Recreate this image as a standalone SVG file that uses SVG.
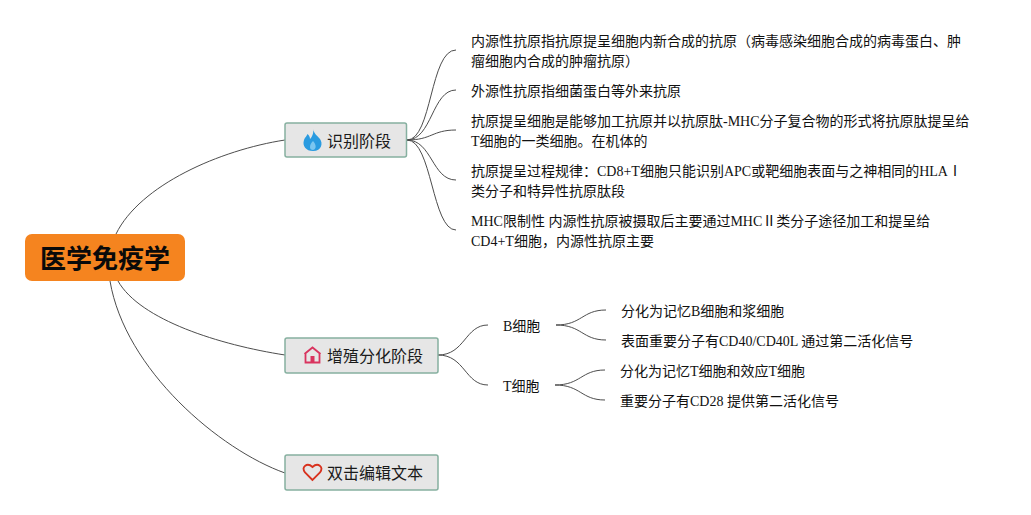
<svg xmlns="http://www.w3.org/2000/svg" width="1031" height="515" viewBox="0 0 1031 515">
<style>
text{font-family:"Liberation Serif","Noto Sans CJK SC",serif;fill:#111}
.leaf{font-size:14px}
.mid{font-size:16px;font-family:"Noto Sans CJK SC","Liberation Sans",sans-serif;fill:#1a1a1a}
.box{fill:#e6e6e6;stroke:#86b0a0;stroke-width:1.500}
.conn path{fill:none;stroke:#4d4d4d;stroke-width:1}
</style>
<rect width="1031" height="515" fill="#fff"/>
<g class="conn" id="connectors">
<path d="M116,234C140,185 220,150 285,140"/>
<path d="M118,281C140,320 220,345 285,355"/>
<path d="M110,281C125,370 220,450 285,473"/>
<path d="M407,140C432,140 430,50 456,50"/>
<path d="M407,140C432,140 432,90 456,90"/>
<path d="M407,140C432,140 432,130 456,130"/>
<path d="M407,140C432,140 432,180 456,180"/>
<path d="M407,140C432,140 432,230 456,230"/>
<path d="M438,355C465,355 465,325 488,325"/>
<path d="M438,355C465,355 465,385 488,385"/>
<path d="M556,325C582,325 582,310 606,310"/>
<path d="M556,325C582,325 582,340 606,340"/>
<path d="M555,385C581,385 581,370 605,370"/>
<path d="M555,385C581,385 581,400 605,400"/>
</g>
<g id="root">
<rect x="25" y="234" width="160" height="47" rx="7" fill="#f5841f"/>
<text x="105" y="268" text-anchor="middle" font-size="26" font-weight="700" style="font-family:'Noto Sans CJK SC',sans-serif;fill:#0a0a0a">医学免疫学</text>
</g>
<g id="n1">
<rect class="box" x="285" y="123" width="121.500" height="34" rx="2"/>
<path d="M313,129C314,134 317,135 320,139C323,143 322,151 313,151C306,151 302,146 304,140C305,137 307,136 307.500,134C309,135 310,137 310,139C312,137 314,133 313,129Z" fill="#2a9be0"/>
<path d="M313,141C316,144 317,149 313,150C309,150 309,145 313,141Z" fill="#7cc6f0"/>
<text class="mid" x="327" y="147">识别阶段</text>
</g>
<g id="n2">
<rect class="box" x="285" y="338" width="153" height="35" rx="2"/>
<path d="M304.500,354L312.500,347.500L320.500,354M305.500,353V362.500H319.500V353" fill="none" stroke="#d9345f" stroke-width="1.800"/>
<rect x="310.500" y="356" width="4" height="6.500" fill="#d9345f"/>
<text class="mid" x="327" y="362">增殖分化阶段</text>
</g>
<g id="n3">
<rect class="box" x="285" y="455" width="153" height="35" rx="2"/>
<path d="M312.500,480L305,472.500C301,467 307,462 312.500,467C318,462 324,467 320,472.500Z" fill="none" stroke="#d8321e" stroke-width="1.800"/>
<text class="mid" x="327" y="479">双击编辑文本</text>
</g>
<g id="leaf1"><text class="leaf" x="471" y="46">内源性抗原指抗原提呈细胞内新合成的抗原（病毒感染细胞合成的病毒蛋白、肿</text><text class="leaf" x="471" y="66">瘤细胞内合成的肿瘤抗原）</text></g>
<g id="leaf2"><text class="leaf" x="471" y="96">外源性抗原指细菌蛋白等外来抗原</text></g>
<g id="leaf3"><text class="leaf" x="471" y="126">抗原提呈细胞是能够加工抗原并以抗原肽-MHC分子复合物的形式将抗原肽提呈给</text><text class="leaf" x="471" y="146">T细胞的一类细胞。在机体的</text></g>
<g id="leaf4"><text class="leaf" x="471" y="176">抗原提呈过程规律：CD8+T细胞只能识别APC或靶细胞表面与之神相同的HLAⅠ</text><text class="leaf" x="471" y="196">类分子和特异性抗原肽段</text></g>
<g id="leaf5"><text class="leaf" x="471" y="226">MHC限制性 内源性抗原被摄取后主要通过MHCⅡ类分子途径加工和提呈给</text><text class="leaf" x="471" y="246">CD4+T细胞，内源性抗原主要</text></g>
<g id="b"><text class="leaf" x="503" y="331">B细胞</text></g>
<g id="t"><text class="leaf" x="503" y="391">T细胞</text></g>
<g id="b1"><text class="leaf" x="621" y="316">分化为记忆B细胞和浆细胞</text></g>
<g id="b2"><text class="leaf" x="621" y="346">表面重要分子有CD40/CD40L 通过第二活化信号</text></g>
<g id="t1"><text class="leaf" x="620" y="376">分化为记忆T细胞和效应T细胞</text></g>
<g id="t2"><text class="leaf" x="620" y="406">重要分子有CD28 提供第二活化信号</text></g>
</svg>
